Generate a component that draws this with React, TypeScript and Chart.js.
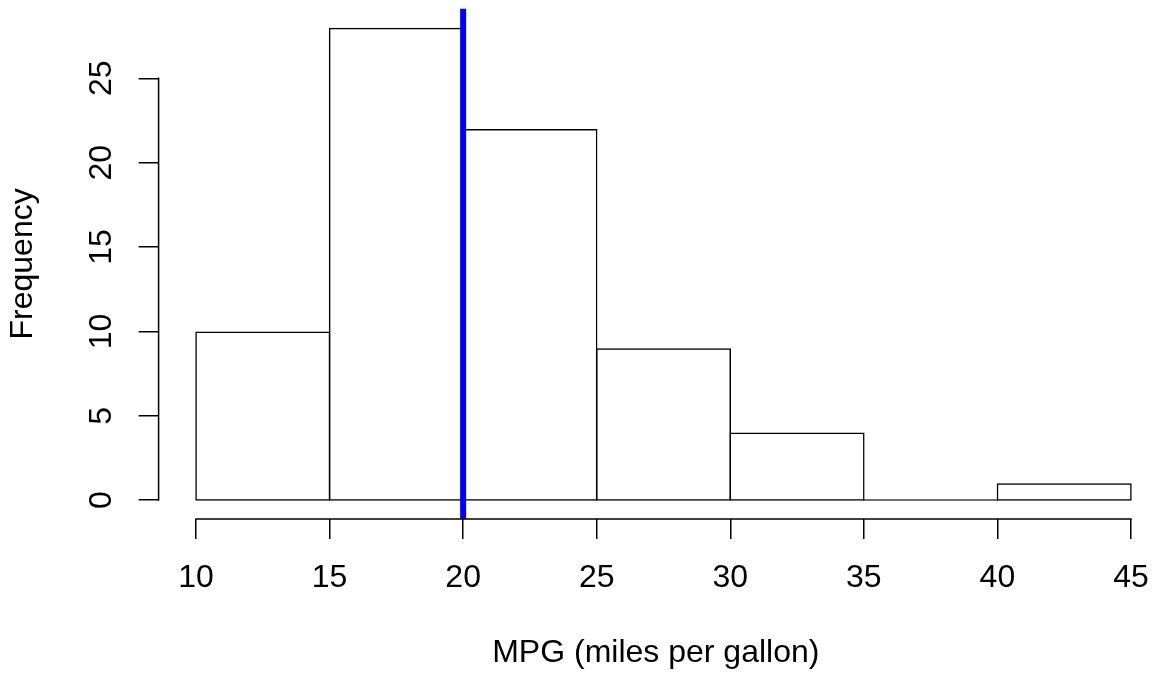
import React, { useEffect, useRef } from "react";
import { Chart, registerables } from "chart.js";

Chart.register(...registerables);

// ---- data ----
const binEdges = [10, 15, 20, 25, 30, 35, 40, 45];
const counts = [10, 28, 22, 9, 4, 0, 1];
const xTicks = [10, 15, 20, 25, 30, 35, 40, 45];
const yTicks = [0, 5, 10, 15, 20, 25];
const meanLine = [20];
const xLabel = "MPG (miles per gallon)";
const yLabel = "Frequency";

const X_MIN = 8.6;
const X_MAX = 45.824;
const Y_MIN = -1.12;
const Y_MAX = 29.12;

export default function App() {
  const ref = useRef<HTMLCanvasElement>(null);

  useEffect(() => {
    document.body.style.margin = "0";
    const canvas = ref.current;
    if (!canvas) return;

    const points = counts.map((c, i) => ({
      x: (binEdges[i] + binEdges[i + 1]) / 2,
      y: c,
    }));

    const family = "'Liberation Sans', Arial, Helvetica, sans-serif";
    const font = { family, size: 32, lineHeight: 1.2 };

    const rAxesPlugin = {
      id: "rAxes",
      afterDatasetsDraw(chart: any) {
        const { ctx, chartArea } = chart;
        const xs = chart.scales.x;
        const ys = chart.scales.y;
        ctx.save();
        // mean line
        ctx.strokeStyle = "#0000FF";
        ctx.lineWidth = 6;
        ctx.lineCap = "butt";
        meanLine.forEach((v) => {
          const px = xs.getPixelForValue(v);
          ctx.beginPath();
          ctx.moveTo(px, chartArea.top);
          ctx.lineTo(px, chartArea.bottom);
          ctx.stroke();
        });
        // axis lines (R style: first to last tick)
        ctx.strokeStyle = "#000000";
        ctx.lineWidth = 1.5;
        ctx.lineCap = "square";
        ctx.beginPath();
        ctx.moveTo(xs.getPixelForValue(xTicks[0]), chartArea.bottom);
        ctx.lineTo(xs.getPixelForValue(xTicks[xTicks.length - 1]), chartArea.bottom);
        ctx.stroke();
        ctx.beginPath();
        ctx.moveTo(chartArea.left, ys.getPixelForValue(yTicks[0]));
        ctx.lineTo(chartArea.left, ys.getPixelForValue(yTicks[yTicks.length - 1]));
        ctx.stroke();
        ctx.restore();
      },
    };

    const chart = new Chart(canvas, {
      type: "bar",
      data: {
        datasets: [
          {
            data: points as any,
            backgroundColor: "rgba(255,255,255,0)",
            borderColor: "#000000",
            borderWidth: 1.5,
            borderSkipped: false,
            inflateAmount: 0,
            minBarLength: 1.5,
            base: -0.0445,
            categoryPercentage: 1,
            barPercentage: 1.0112,
          } as any,
        ],
      },
      options: {
        animation: false,
        responsive: false,
        devicePixelRatio: 1,
        layout: { padding: { top: 8.8, left: 0, right: 0, bottom: 0 } },
        plugins: {
          legend: { display: false },
          tooltip: { enabled: false },
        },
        scales: {
          x: {
            type: "linear",
            min: X_MIN,
            max: X_MAX,
            offset: false,
            grid: {
              display: true,
              offset: false,
              drawOnChartArea: false,
              drawTicks: true,
              tickLength: 20,
              color: "#000000",
              lineWidth: 1.5,
            },
            border: { display: false },
            ticks: {
              autoSkip: false,
              maxRotation: 0,
              minRotation: 0,
              padding: 20,
              color: "#000000",
              font,
              callback: (v: any) => String(v),
            },
            title: {
              display: true,
              text: xLabel,
              color: "#000000",
              font,
              padding: { top: 0, bottom: 1 },
            },
            afterBuildTicks: (scale: any) => {
              scale.ticks = xTicks.map((v) => ({ value: v }));
            },
            afterFit: (scale: any) => {
              scale.height = 154;
              scale.paddingLeft = 0;
              scale.paddingRight = 0;
              scale.paddingTop = 0;
              scale.paddingBottom = 0;
            },
          },
          y: {
            type: "linear",
            min: Y_MIN,
            max: Y_MAX,
            grid: {
              display: true,
              drawOnChartArea: false,
              drawTicks: true,
              tickLength: 20,
              color: "#000000",
              lineWidth: 1.5,
            },
            border: { display: false },
            ticks: {
              autoSkip: false,
              minRotation: 90,
              maxRotation: 90,
              crossAlign: "center",
              padding: 19,
              color: "#000000",
              font,
              callback: (v: any) => String(v),
            },
            title: {
              display: true,
              text: yLabel,
              color: "#000000",
              font,
              padding: { top: 4, bottom: 0 },
            },
            afterBuildTicks: (scale: any) => {
              scale.ticks = yTicks.map((v) => ({ value: v }));
            },
            afterFit: (scale: any) => {
              scale.width = 158.6;
              scale.paddingLeft = 0;
              scale.paddingRight = 0;
              scale.paddingTop = 0;
              scale.paddingBottom = 0;
            },
          },
        },
      } as any,
      plugins: [rAxesPlugin],
    });

    return () => chart.destroy();
  }, []);

  return (
    <div style={{ width: 1153, height: 673, background: "#ffffff" }}>
      <canvas ref={ref} width={1153} height={673} style={{ display: "block" }} />
    </div>
  );
}
